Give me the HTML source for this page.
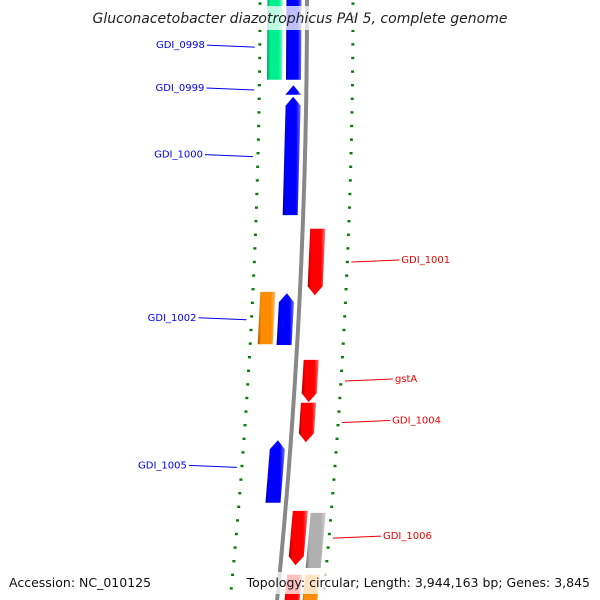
<!DOCTYPE html>
<html><head><meta charset="utf-8">
<style>
html,body{margin:0;padding:0;background:#fff;}
svg{display:block;font-family:"DejaVu Sans","Liberation Sans",sans-serif;}
</style></head>
<body>
<svg id="map" width="600" height="600" viewBox="0 0 600 600" xmlns="http://www.w3.org/2000/svg">
<defs>
<linearGradient id="gshade" x1="0" y1="0" x2="1" y2="0">
<stop offset="0" stop-color="#000" stop-opacity="0.35"/>
<stop offset="0.2" stop-color="#000" stop-opacity="0"/>
<stop offset="0.75" stop-color="#fff" stop-opacity="0"/>
<stop offset="1" stop-color="#fff" stop-opacity="0.45"/>
</linearGradient>
<linearGradient id="bshade" x1="0" y1="0" x2="1" y2="0">
<stop offset="0" stop-color="#666"/><stop offset="0.5" stop-color="#aaa"/><stop offset="1" stop-color="#666"/>
</linearGradient>
</defs>
<g id="ticks"></g>
<path id="backbone" fill="none" stroke="#888" stroke-width="4"></path>
<g id="genes"></g>
<g id="labels"></g>
<rect x="90" y="6" width="420" height="24" fill="#fff" fill-opacity="0.75"/>
<text x="300" y="23" text-anchor="middle" font-size="14" font-style="italic" fill="#222">Gluconacetobacter diazotrophicus PAI 5, complete genome</text>
<rect x="4" y="572" width="150" height="22" fill="#fff" fill-opacity="0.75"/>
<text x="9" y="587" font-size="12.5" fill="#111">Accession: NC_010125</text>
<rect x="256" y="572" width="340" height="22" fill="#fff" fill-opacity="0.75"/>
<text x="590" y="587" text-anchor="end" font-size="12.5" fill="#111">Topology: circular; Length: 3,944,163 bp; Genes: 3,845</text>
</svg>
<script>
// data
const geneNames  = ["GDI_0998","GDI_0998b","GDI_0999","GDI_1000","GDI_1001","GDI_1002b","GDI_1002","gstA","GDI_1004","GDI_1005","GDI_1006","GDI_1006b","GDI_1007","GDI_1007b"];
const geneStart  = [1013.53,1013.53,1014.90,1015.07,1017.01,1017.94,1017.96,1018.94,1019.57,1020.12,1021.16,1021.19,1022.10,1022.10];
const geneEnd    = [1014.82,1014.82,1015.04,1015.07+1.74,1017.99,1018.71,1018.72,1019.56,1020.15,1021.04,1021.96,1022.00,1022.70,1022.70];
const geneTrack  = [-1,-2,-1,-1,1,-2,-1,1,1,-1,1,2,1,2];
const geneArrow  = [0,0,1,1,1,0,1,1,1,1,1,0,0,0];
const geneColor  = ["#0000ff","#00f090","#0000ff","#0000ff","#ff0000","#ff8c00","#0000ff","#ff0000","#ff0000","#0000ff","#ff0000","#b0b0b0","#ff0000","#ff8c00"];
const tickKbp    = [1013.5,1023.0];
const tickStep   = 0.2;
const labelText  = ["GDI_0998","GDI_0999","GDI_1000","GDI_1002","GDI_1005","GDI_1001","gstA","GDI_1004","GDI_1006"];
const labelKbp   = [1014.34,1014.97,1015.95,1018.35,1020.52,1017.50,1019.25,1019.86,1021.56];
const labelSide  = [-1,-1,-1,-1,-1,1,1,1,1];

// axis functions
const Y0 = 92, PX_PER_KB = 68, KB0 = 1015;
function yOf(kb){ return Y0 + (kb-KB0)*PX_PER_KB; }
function bx(y){ return 307 - 8.3e-5*y*y; }
const trackOff = {"-2":-32,"-1":-13,"1":15,"2":33};
const HW = 7.5, AH = 9;
const NS = "http://www.w3.org/2000/svg";
function mk(tag, attrs, parent){ const e=document.createElementNS(NS,tag); for(const k in attrs) e.setAttribute(k,attrs[k]); parent.appendChild(e); return e; }

// backbone
let d=""; for(let y=-5;y<=605;y+=5){ d+=(y===-5?"M":"L")+bx(y).toFixed(1)+","+y+" "; }
document.getElementById("backbone").setAttribute("d",d);

// ticks
const tg=document.getElementById("ticks");
for(let kb=tickKbp[0]; kb<=tickKbp[1]+1e-6; kb+=tickStep){
  const y=yOf(kb); const major=Math.abs(kb-Math.round(kb))<1e-6;
  [-47,46].forEach(off=>{
    const x=bx(y)+off, w=major?7:3;
    const r=mk("rect",{x:x-w/2,y:y-1.2,width:w,height:2.4,fill:"#0a7a0a"},tg);
    
    
  });
  if(major){
    const t=mk("text",{x:bx(y)-54,y:y+3,"text-anchor":"end","font-size":"8.5",fill:"#222"},tg);
    t.textContent=Math.round(kb)+" kbp";
    
    
  }
}

// genes
const gg=document.getElementById("genes");
for(let i=0;i<geneNames.length;i++){
  const y1=yOf(geneStart[i]), y2=yOf(geneEnd[i]);
  const off=trackOff[geneTrack[i]];
  const c1=bx(y1)+off, c2=bx(y2)+off;
  let pts;
  if(!geneArrow[i]){
    pts=[[c1-HW,y1],[c1+HW,y1],[c2+HW,y2],[c2-HW,y2]];
  } else if(geneTrack[i]<0){ // points up
    const ya=Math.min(y1+AH,y2), ca=bx(ya)+off;
    pts=[[c1,y1],[ca+HW,ya],[c2+HW,y2],[c2-HW,y2],[ca-HW,ya]];
  } else { // points down
    const ya=Math.max(y2-AH,y1), ca=bx(ya)+off;
    pts=[[c1-HW,y1],[c1+HW,y1],[ca+HW,ya],[c2,y2],[ca-HW,ya]];
  }
  const p=pts.map(q=>q[0].toFixed(1)+","+q[1].toFixed(1)).join(" ");
  const g=mk("g",{},gg);
  
  
  mk("polygon",{points:p,fill:geneColor[i]},g);
  mk("polygon",{points:p,fill:"url(#gshade)"},g);
}

// labels
const lg=document.getElementById("labels");
for(let i=0;i<labelText.length;i++){
  const y=yOf(labelKbp[i]); const left=labelSide[i]<0;
  const col=left?"#0000ee":"#ee0000";
  const xa=left?bx(y)-52:bx(y)+50, xb=left?xa-48:xa+48;
  const ln=mk("line",{x1:xa,y1:y+(left?0:0),x2:xb,y2:y-2,stroke:col,"stroke-width":1},lg);
  
  
  const t=mk("text",{x:left?xb-2:xb+2,y:y+1,"text-anchor":left?"end":"start","font-size":"10",fill:col},lg);
  t.textContent=labelText[i];
  
  
}
</script>
</body></html>
